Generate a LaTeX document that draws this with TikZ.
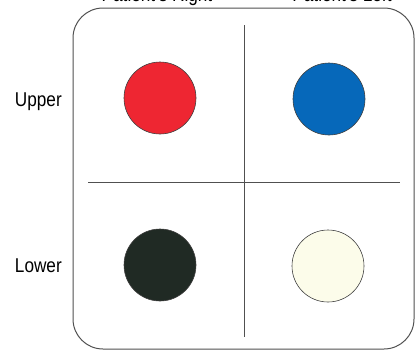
\documentclass[tikz,border=0pt]{standalone}
\usepackage{fontspec}
\setmainfont{Liberation Sans}[FakeStretch=0.86]
\definecolor{ToothRed}{RGB}{238,38,50}
\definecolor{ToothBlue}{RGB}{6,104,186}
\definecolor{ToothDark}{RGB}{32,42,36}
\definecolor{ToothCream}{RGB}{252,252,234}
\definecolor{FrameGray}{RGB}{80,80,80}
\usetikzlibrary{positioning}

\tikzset{
  frame/.style={draw=FrameGray, line width=1pt},
  tooth/.style={circle, draw=black!75, line width=0.6pt, minimum size=72pt, inner sep=0pt},
  side/.style={font=\fontsize{20}{24}\selectfont, inner sep=0pt}
}

\begin{document}
\begin{tikzpicture}[x=1pt,y=-1pt]
  \useasboundingbox (0,0) rectangle (416,351);
  \clip (0,0) rectangle (416,351);

  % outer box and the two dividers
  \draw[frame, rounded corners=30pt] (73,8) rectangle (414,349);
  \draw[frame, line width=0.8pt] (244,25) -- (244,337);
  \draw[frame, line width=0.8pt] (88,182) -- (400,182);

  % quadrants
  \node[tooth, fill=ToothRed]   (upright) at (160,98)  {};
  \node[tooth, fill=ToothBlue]  (upleft)  at (329,99)  {};
  \node[tooth, fill=ToothDark]  (lowright) at (160,265) {};
  \node[tooth, fill=ToothCream] (lowleft) at (328,266) {};

  % labels
  \node[side, anchor=base east] (upper) at (62,106) {Upper};
  \node[side, anchor=base east] (lower) at (62,272) {Lower};
  \node[side, anchor=base] (right) at (157,1) {Patient's Right};
  \node[side, anchor=base] (left)  at (342,1) {Patient's Left};
\end{tikzpicture}
\end{document}
